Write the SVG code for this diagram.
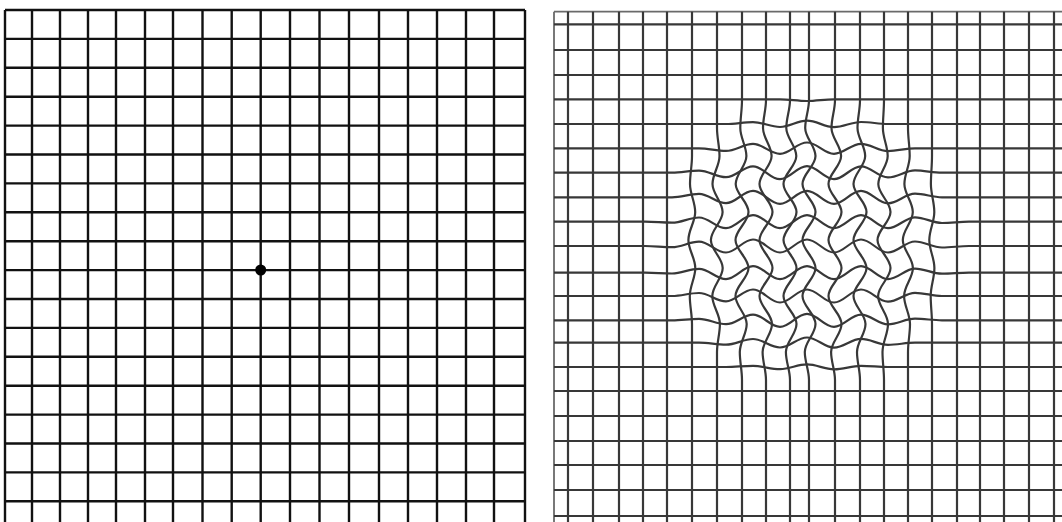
<svg xmlns="http://www.w3.org/2000/svg" width="1062" height="522" viewBox="0 0 1062 522">
<style>
.lg{stroke:#111;stroke-width:2.4;fill:none}
.rg{stroke:#383838;stroke-width:2.2;fill:none}
.rb{stroke:#6a6a6a;stroke-width:1.8;fill:none}
</style>
<rect width="1062" height="522" fill="#fff"/>
<g id="normal-grid" class="lg">
<path d="M5 10V522M32 10V522M60 10V522M88 10V522M116 10V522M145 10V522M173 10V522M202.5 10V522M231.7 10V522M260.7 10V522M290 10V522M319.5 10V522M349 10V522M379 10V522M408 10V522M437 10V522M466 10V522M494 10V522M525 10V522"/>
<path d="M5 10H525M5 38.9H525M5 67.8H525M5 96.7H525M5 125.6H525M5 154.5H525M5 183.4H525M5 212.3H525M5 241.2H525M5 270.1H525M5 299H525M5 327.9H525M5 356.8H525M5 385.7H525M5 414.6H525M5 443.5H525M5 472.4H525M5 501.3H525"/>
<circle id="fixation-dot" cx="260.7" cy="270" r="5.5" fill="#000" stroke="none"/>
</g>
<g id="distorted-grid">
<path class="rb" d="M554 11.7V522M554 11.7H1062"/>
<g class="rg">
<path d="M568 11.7V522M593 11.7V522M619 11.7V522M643 11.7V522M667 11.7V522M957 11.7V522M980 11.7V522M1004 11.7V522M1029 11.7V522M1054 11.7V522"/>
<path d="M554 24.3H1062M554 50H1062M554 75H1062M554 391H1062M554 416H1062M554 441H1062M554 465H1062M554 490H1062M554 516H1062"/>
<path d="M692 11.7 V156 C692 166 690 174 690 184 S695.2 202 695.2 212 S688.4 230 688.4 240 S695.3 258 695.3 268 S689.8 286 689.8 296 S692 314 692 324 V522"/>
<path d="M717 11.7 V128 C717 138 719.5 146 719.5 156 S712.5 174 712.5 184 S722.6 202 722.6 212 S710.9 230 710.9 240 S722.7 258 722.7 268 S712.3 286 712.3 296 S719.9 314 719.9 324 S717 342 717 352 V522"/>
<path d="M742 11.7 V100 C742 110 740.3 118 740.3 128 S746.4 146 746.4 156 S735.7 174 735.7 184 S748.5 202 748.5 212 S735.5 230 735.5 240 S748.5 258 748.5 268 S735.5 286 735.5 296 S746.7 314 746.7 324 S739.8 342 739.8 352 S742 370 742 380 V522"/>
<path d="M766 11.7 V100 C766 110 763 118 763 128 S771.6 146 771.6 156 S759.5 174 759.5 184 S772.5 202 772.5 212 S759.5 230 759.5 240 S772.5 258 772.5 268 S759.5 286 759.5 296 S772 314 772 324 S762.6 342 762.6 352 S766 370 766 380 V522"/>
<path d="M790 11.7 V100 C790 110 786.3 118 786.3 128 S796.3 146 796.3 156 S783.5 174 783.5 184 S796.5 202 796.5 212 S783.5 230 783.5 240 S796.5 258 796.5 268 S783.5 286 783.5 296 S796.5 314 796.5 324 S785.9 342 785.9 352 S790 370 790 380 V522"/>
<path d="M809 11.7 V100 C809 110 805.2 118 805.2 128 S815.5 146 815.5 156 S802.5 174 802.5 184 S815.5 202 815.5 212 S802.5 230 802.5 240 S815.5 258 815.5 268 S802.5 286 802.5 296 S815.5 314 815.5 324 S804.8 342 804.8 352 S809 370 809 380 V522"/>
<path d="M835 11.7 V100 C835 110 831.5 118 831.5 128 S841.1 146 841.1 156 S828.5 174 828.5 184 S841.5 202 841.5 212 S828.5 230 828.5 240 S841.5 258 841.5 268 S828.5 286 828.5 296 S841.5 314 841.5 324 S831.1 342 831.1 352 S835 370 835 380 V522"/>
<path d="M860 11.7 V100 C860 110 857.5 118 857.5 128 S865.2 146 865.2 156 S853.5 174 853.5 184 S866.5 202 866.5 212 S853.5 230 853.5 240 S866.5 258 866.5 268 S853.5 286 853.5 296 S865.5 314 865.5 324 S857 342 857 352 S860 370 860 380 V522"/>
<path d="M884 11.7 V100 C884 110 882.9 118 882.9 128 S887.7 146 887.7 156 S878.3 174 878.3 184 S890.5 202 890.5 212 S877.5 230 877.5 240 S890.5 258 890.5 268 S878.1 286 878.1 296 S888 314 888 324 S882.5 342 882.5 352 S884 370 884 380 V522"/>
<path d="M908 11.7 V128 C908 138 909.7 146 909.7 156 S904.4 174 904.4 184 S912.8 202 912.8 212 S902.8 230 902.8 240 S912.9 258 912.9 268 S904.1 286 904.1 296 S910 314 910 324 S908 342 908 352 V522"/>
<path d="M932 11.7 V156 C932 166 930.9 174 930.9 184 S934.3 202 934.3 212 S929.3 230 929.3 240 S934.4 258 934.4 268 S930.7 286 930.7 296 S932 314 932 324 V522"/>
<path d="M554 99.3 H780 C790 99.3 797 101 807 101 S824 99.3 834 99.3 H1062"/>
<path d="M554 124 H726 C736 124 743 122.1 753 122.1 S770 127 780 127 S797 120.6 807 120.6 S824 127.1 834 127.1 S851 122 861 122 S878 124 888 124 H1062"/>
<path d="M554 148.3 H699 C709 148.3 716 150.9 726 150.9 S743 143.9 753 143.9 S770 153.8 780 153.8 S797 142.5 807 142.5 S824 153.8 834 153.8 S851 143.8 861 143.8 S878 151.1 888 151.1 S905 148.3 915 148.3 H1062"/>
<path d="M554 172.7 H672 C682 172.7 689 170.6 699 170.6 S716 177.2 726 177.2 S743 166.4 753 166.4 S770 179.2 780 179.2 S797 166.2 807 166.2 S824 179.2 834 179.2 S851 166.3 861 166.3 S878 177.4 888 177.4 S905 170.4 915 170.4 S932 172.7 942 172.7 H1062"/>
<path d="M554 197.3 H672 C682 197.3 689 193.9 699 193.9 S716 203.2 726 203.2 S743 190.8 753 190.8 S770 203.8 780 203.8 S797 190.8 807 190.8 S824 203.8 834 203.8 S851 190.8 861 190.8 S878 203.3 888 203.3 S905 193.7 915 193.7 S932 197.3 942 197.3 H1062"/>
<path d="M554 221.7 H645 C655 221.7 662 222.7 672 222.7 S689 217.5 699 217.5 S716 228.2 726 228.2 S743 215.2 753 215.2 S770 228.2 780 228.2 S797 215.2 807 215.2 S824 228.2 834 228.2 S851 215.2 861 215.2 S878 228.2 888 228.2 S905 217.3 915 217.3 S932 223 942 223 S959 221.7 969 221.7 H1062"/>
<path d="M554 246 H645 C655 246 662 247.2 672 247.2 S689 241.7 699 241.7 S716 252.5 726 252.5 S743 239.5 753 239.5 S770 252.5 780 252.5 S797 239.5 807 239.5 S824 252.5 834 252.5 S851 239.5 861 239.5 S878 252.5 888 252.5 S905 241.5 915 241.5 S932 247.5 942 247.5 S959 246 969 246 H1062"/>
<path d="M554 272.7 H645 C655 272.7 662 273.5 672 273.5 S689 268.8 699 268.8 S716 279.1 726 279.1 S743 266.2 753 266.2 S770 279.2 780 279.2 S797 266.2 807 266.2 S824 279.2 834 279.2 S851 266.2 861 266.2 S878 279.2 888 279.2 S905 268.6 915 268.6 S932 273.7 942 273.7 S959 272.7 969 272.7 H1062"/>
<path d="M554 296 H672 C682 296 689 293 699 293 S716 301.4 726 301.4 S743 289.5 753 289.5 S770 302.5 780 302.5 S797 289.5 807 289.5 S824 302.5 834 302.5 S851 289.5 861 289.5 S878 301.6 888 301.6 S905 292.8 915 292.8 S932 296 942 296 H1062"/>
<path d="M554 320.3 H672 C682 320.3 689 318.9 699 318.9 S716 324.2 726 324.2 S743 314.7 753 314.7 S770 326.8 780 326.8 S797 313.8 807 313.8 S824 326.8 834 326.8 S851 314.6 861 314.6 S878 324.3 888 324.3 S905 318.7 915 318.7 S932 320.3 942 320.3 H1062"/>
<path d="M554 342.7 H699 C709 342.7 716 344.7 726 344.7 S743 339 753 339 S770 347.5 780 347.5 S797 337.5 807 337.5 S824 347.6 834 347.6 S851 338.9 861 338.9 S878 344.8 888 344.8 S905 342.7 915 342.7 H1062"/>
<path d="M554 367 H726 C736 367 743 365.9 753 365.9 S770 369.2 780 369.2 S797 364.4 807 364.4 S824 369.3 834 369.3 S851 365.8 861 365.8 S878 367 888 367 H1062"/>
</g>
</g>
</svg>
